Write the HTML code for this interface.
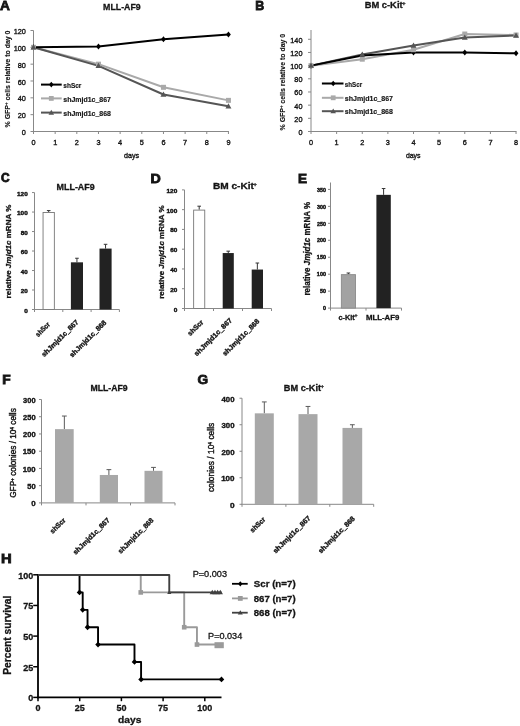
<!DOCTYPE html>
<html><head><meta charset="utf-8"><style>
html,body{margin:0;padding:0;background:#fff;overflow:hidden;}
svg{display:block;font-family:"Liberation Sans", sans-serif;will-change:transform;}
</style></head><body>
<svg width="520" height="726" viewBox="0 0 520 726">
<rect width="520" height="726" fill="#fff"/>
<text x="0.06" y="10.0" font-size="13.19" font-weight="bold" fill="#141414" textLength="9.9" lengthAdjust="spacingAndGlyphs" stroke="#141414" stroke-width="0.8">A</text>
<text x="255.17" y="9.7" font-size="13.19" font-weight="bold" fill="#141414" textLength="9.0" lengthAdjust="spacingAndGlyphs" stroke="#141414" stroke-width="0.8">B</text>
<text x="1.11" y="182.0" font-size="12.49" font-weight="bold" fill="#141414" textLength="8.61" lengthAdjust="spacingAndGlyphs" stroke="#141414" stroke-width="0.8">C</text>
<text x="150.45" y="183.4" font-size="12.29" font-weight="bold" fill="#141414" textLength="10.25" lengthAdjust="spacingAndGlyphs" stroke="#141414" stroke-width="0.8">D</text>
<text x="298.09" y="183.3" font-size="12.49" font-weight="bold" fill="#141414" textLength="9.04" lengthAdjust="spacingAndGlyphs" stroke="#141414" stroke-width="0.8">E</text>
<text x="2.17" y="384.1" font-size="12.09" font-weight="bold" fill="#141414" textLength="8.43" lengthAdjust="spacingAndGlyphs" stroke="#141414" stroke-width="0.8">F</text>
<text x="197.54" y="384.4" font-size="12.49" font-weight="bold" fill="#141414" textLength="10.6" lengthAdjust="spacingAndGlyphs" stroke="#141414" stroke-width="0.8">G</text>
<text x="0.91" y="563.4" font-size="12.89" font-weight="bold" fill="#141414" textLength="10.69" lengthAdjust="spacingAndGlyphs" stroke="#141414" stroke-width="0.8">H</text>
<line x1="33.5" y1="30.5" x2="33.5" y2="131.5" stroke="#888888" stroke-width="1"/>
<line x1="30.5" y1="131.5" x2="33.5" y2="131.5" stroke="#888888" stroke-width="1"/>
<text x="21.83" y="135.0" font-size="7.3" fill="#141414" stroke="#141414" stroke-width="0.35">0</text>
<line x1="30.5" y1="114.666" x2="33.5" y2="114.666" stroke="#888888" stroke-width="1"/>
<text x="17.77" y="118.17" font-size="7.3" fill="#141414" stroke="#141414" stroke-width="0.35">20</text>
<line x1="30.5" y1="97.832" x2="33.5" y2="97.832" stroke="#888888" stroke-width="1"/>
<text x="17.77" y="101.33" font-size="7.3" fill="#141414" stroke="#141414" stroke-width="0.35">40</text>
<line x1="30.5" y1="80.99799999999999" x2="33.5" y2="80.99799999999999" stroke="#888888" stroke-width="1"/>
<text x="17.77" y="84.5" font-size="7.3" fill="#141414" stroke="#141414" stroke-width="0.35">60</text>
<line x1="30.5" y1="64.164" x2="33.5" y2="64.164" stroke="#888888" stroke-width="1"/>
<text x="17.77" y="67.66" font-size="7.3" fill="#141414" stroke="#141414" stroke-width="0.35">80</text>
<line x1="30.5" y1="47.33" x2="33.5" y2="47.33" stroke="#888888" stroke-width="1"/>
<text x="13.71" y="50.83" font-size="7.3" fill="#141414" stroke="#141414" stroke-width="0.35">100</text>
<line x1="30.5" y1="30.495999999999995" x2="33.5" y2="30.495999999999995" stroke="#888888" stroke-width="1"/>
<text x="13.71" y="34.0" font-size="7.3" fill="#141414" stroke="#141414" stroke-width="0.35">120</text>
<line x1="33.0" y1="131.5" x2="228.94" y2="131.5" stroke="#888888" stroke-width="1"/>
<line x1="33.5" y1="131.5" x2="33.5" y2="134.0" stroke="#888888" stroke-width="1"/>
<text x="33.5" y="144.8" font-size="7.3" text-anchor="middle" fill="#141414" stroke="#141414" stroke-width="0.35">0</text>
<line x1="55.16" y1="131.5" x2="55.16" y2="134.0" stroke="#888888" stroke-width="1"/>
<text x="55.16" y="144.8" font-size="7.3" text-anchor="middle" fill="#141414" stroke="#141414" stroke-width="0.35">1</text>
<line x1="76.82" y1="131.5" x2="76.82" y2="134.0" stroke="#888888" stroke-width="1"/>
<text x="76.82" y="144.8" font-size="7.3" text-anchor="middle" fill="#141414" stroke="#141414" stroke-width="0.35">2</text>
<line x1="98.48" y1="131.5" x2="98.48" y2="134.0" stroke="#888888" stroke-width="1"/>
<text x="98.48" y="144.8" font-size="7.3" text-anchor="middle" fill="#141414" stroke="#141414" stroke-width="0.35">3</text>
<line x1="120.14" y1="131.5" x2="120.14" y2="134.0" stroke="#888888" stroke-width="1"/>
<text x="120.14" y="144.8" font-size="7.3" text-anchor="middle" fill="#141414" stroke="#141414" stroke-width="0.35">4</text>
<line x1="141.8" y1="131.5" x2="141.8" y2="134.0" stroke="#888888" stroke-width="1"/>
<text x="141.8" y="144.8" font-size="7.3" text-anchor="middle" fill="#141414" stroke="#141414" stroke-width="0.35">5</text>
<line x1="163.46" y1="131.5" x2="163.46" y2="134.0" stroke="#888888" stroke-width="1"/>
<text x="163.46" y="144.8" font-size="7.3" text-anchor="middle" fill="#141414" stroke="#141414" stroke-width="0.35">6</text>
<line x1="185.12" y1="131.5" x2="185.12" y2="134.0" stroke="#888888" stroke-width="1"/>
<text x="185.12" y="144.8" font-size="7.3" text-anchor="middle" fill="#141414" stroke="#141414" stroke-width="0.35">7</text>
<line x1="206.78" y1="131.5" x2="206.78" y2="134.0" stroke="#888888" stroke-width="1"/>
<text x="206.78" y="144.8" font-size="7.3" text-anchor="middle" fill="#141414" stroke="#141414" stroke-width="0.35">8</text>
<line x1="228.44" y1="131.5" x2="228.44" y2="134.0" stroke="#888888" stroke-width="1"/>
<text x="228.44" y="144.8" font-size="7.3" text-anchor="middle" fill="#141414" stroke="#141414" stroke-width="0.35">9</text>
<polyline points="33.50,47.33 98.48,64.16 163.46,87.31 228.44,100.36" fill="none" stroke="#a9a9a9" stroke-width="2.0" stroke-linejoin="round"/>
<polyline points="33.50,47.33 98.48,65.85 163.46,94.47 228.44,106.25" fill="none" stroke="#555555" stroke-width="2.0" stroke-linejoin="round"/>
<polyline points="33.50,47.33 98.48,46.49 163.46,39.33 228.44,34.54" fill="none" stroke="#000" stroke-width="2.0" stroke-linejoin="round"/>
<path d="M33.50,44.33L35.90,47.33L33.50,50.33L31.10,47.33Z" fill="#000"/>
<path d="M98.48,43.49L100.88,46.49L98.48,49.49L96.08,46.49Z" fill="#000"/>
<path d="M163.46,36.33L165.86,39.33L163.46,42.33L161.06,39.33Z" fill="#000"/>
<path d="M228.44,31.54L230.84,34.54L228.44,37.54L226.04,34.54Z" fill="#000"/>
<rect x="31.00" y="44.83" width="5.00" height="5.00" fill="#a9a9a9"/>
<rect x="95.98" y="61.66" width="5.00" height="5.00" fill="#a9a9a9"/>
<rect x="160.96" y="84.81" width="5.00" height="5.00" fill="#a9a9a9"/>
<rect x="225.94" y="97.86" width="5.00" height="5.00" fill="#a9a9a9"/>
<path d="M33.50,44.34L36.49,49.54L30.51,49.54Z" fill="#555555"/>
<path d="M98.48,62.86L101.47,68.06L95.49,68.06Z" fill="#555555"/>
<path d="M163.46,91.48L166.45,96.68L160.47,96.68Z" fill="#555555"/>
<path d="M228.44,103.26L231.43,108.46L225.45,108.46Z" fill="#555555"/>
<text x="103.11" y="9.6" font-size="9.9" font-weight="bold" fill="#141414" textLength="37.61" lengthAdjust="spacingAndGlyphs" stroke="#141414" stroke-width="0.3">MLL-AF9</text>
<text x="123.97" y="157.72" font-size="7.11" fill="#141414" textLength="15.11" lengthAdjust="spacingAndGlyphs" stroke="#141414" stroke-width="0.35">days</text>
<text transform="translate(10.4,127.47) rotate(-90)" font-size="8.0" font-weight="bold" fill="#141414" textLength="96.96" lengthAdjust="spacingAndGlyphs" stroke="#141414" stroke-width="0.15">% GFP<tspan dy="-2.6" font-size="5">+</tspan><tspan dy="2.6"> cells relative to day 0</tspan></text>
<line x1="41" y1="84.6" x2="61.7" y2="84.6" stroke="#000" stroke-width="2.0"/>
<path d="M51.30,81.80L53.60,84.60L51.30,87.40L49.00,84.60Z" fill="#000"/>
<line x1="41" y1="98.4" x2="61.7" y2="98.4" stroke="#a9a9a9" stroke-width="2.0"/>
<rect x="48.90" y="96.00" width="4.80" height="4.80" fill="#a9a9a9"/>
<line x1="41" y1="112.6" x2="61.7" y2="112.6" stroke="#555555" stroke-width="2.0"/>
<path d="M51.30,109.84L54.06,114.64L48.54,114.64Z" fill="#555555"/>
<text x="63.27" y="87.8" font-size="7.4" font-weight="bold" fill="#141414" textLength="18.13" lengthAdjust="spacingAndGlyphs" stroke="#141414" stroke-width="0.15">shScr</text>
<text x="63.26" y="102.0" font-size="7.4" font-weight="bold" fill="#141414" textLength="47.75" lengthAdjust="spacingAndGlyphs" stroke="#141414" stroke-width="0.15">shJmjd1c_867</text>
<text x="63.26" y="116.2" font-size="7.4" font-weight="bold" fill="#141414" textLength="47.66" lengthAdjust="spacingAndGlyphs" stroke="#141414" stroke-width="0.15">shJmjd1c_868</text>
<line x1="311.0" y1="30.0" x2="311.0" y2="131.5" stroke="#888888" stroke-width="1"/>
<line x1="308.0" y1="131.5" x2="311.0" y2="131.5" stroke="#888888" stroke-width="1"/>
<text x="298.43" y="135.0" font-size="7.3" fill="#141414" stroke="#141414" stroke-width="0.35">0</text>
<line x1="308.0" y1="118.328" x2="311.0" y2="118.328" stroke="#888888" stroke-width="1"/>
<text x="294.37" y="121.83" font-size="7.3" fill="#141414" stroke="#141414" stroke-width="0.35">20</text>
<line x1="308.0" y1="105.156" x2="311.0" y2="105.156" stroke="#888888" stroke-width="1"/>
<text x="294.37" y="108.66" font-size="7.3" fill="#141414" stroke="#141414" stroke-width="0.35">40</text>
<line x1="308.0" y1="91.98400000000001" x2="311.0" y2="91.98400000000001" stroke="#888888" stroke-width="1"/>
<text x="294.37" y="95.48" font-size="7.3" fill="#141414" stroke="#141414" stroke-width="0.35">60</text>
<line x1="308.0" y1="78.81200000000001" x2="311.0" y2="78.81200000000001" stroke="#888888" stroke-width="1"/>
<text x="294.37" y="82.31" font-size="7.3" fill="#141414" stroke="#141414" stroke-width="0.35">80</text>
<line x1="308.0" y1="65.64" x2="311.0" y2="65.64" stroke="#888888" stroke-width="1"/>
<text x="290.31" y="69.14" font-size="7.3" fill="#141414" stroke="#141414" stroke-width="0.35">100</text>
<line x1="308.0" y1="52.468" x2="311.0" y2="52.468" stroke="#888888" stroke-width="1"/>
<text x="290.31" y="55.97" font-size="7.3" fill="#141414" stroke="#141414" stroke-width="0.35">120</text>
<line x1="308.0" y1="39.29600000000001" x2="311.0" y2="39.29600000000001" stroke="#888888" stroke-width="1"/>
<text x="290.31" y="42.8" font-size="7.3" fill="#141414" stroke="#141414" stroke-width="0.35">140</text>
<line x1="310.5" y1="131.5" x2="516.54" y2="131.5" stroke="#888888" stroke-width="1"/>
<line x1="311.0" y1="131.5" x2="311.0" y2="134.0" stroke="#888888" stroke-width="1"/>
<text x="311.0" y="144.8" font-size="7.3" text-anchor="middle" fill="#141414" stroke="#141414" stroke-width="0.35">0</text>
<line x1="336.63" y1="131.5" x2="336.63" y2="134.0" stroke="#888888" stroke-width="1"/>
<text x="336.63" y="144.8" font-size="7.3" text-anchor="middle" fill="#141414" stroke="#141414" stroke-width="0.35">1</text>
<line x1="362.26" y1="131.5" x2="362.26" y2="134.0" stroke="#888888" stroke-width="1"/>
<text x="362.26" y="144.8" font-size="7.3" text-anchor="middle" fill="#141414" stroke="#141414" stroke-width="0.35">2</text>
<line x1="387.89" y1="131.5" x2="387.89" y2="134.0" stroke="#888888" stroke-width="1"/>
<text x="387.89" y="144.8" font-size="7.3" text-anchor="middle" fill="#141414" stroke="#141414" stroke-width="0.35">3</text>
<line x1="413.52" y1="131.5" x2="413.52" y2="134.0" stroke="#888888" stroke-width="1"/>
<text x="413.52" y="144.8" font-size="7.3" text-anchor="middle" fill="#141414" stroke="#141414" stroke-width="0.35">4</text>
<line x1="439.15" y1="131.5" x2="439.15" y2="134.0" stroke="#888888" stroke-width="1"/>
<text x="439.15" y="144.8" font-size="7.3" text-anchor="middle" fill="#141414" stroke="#141414" stroke-width="0.35">5</text>
<line x1="464.78" y1="131.5" x2="464.78" y2="134.0" stroke="#888888" stroke-width="1"/>
<text x="464.78" y="144.8" font-size="7.3" text-anchor="middle" fill="#141414" stroke="#141414" stroke-width="0.35">6</text>
<line x1="490.40999999999997" y1="131.5" x2="490.40999999999997" y2="134.0" stroke="#888888" stroke-width="1"/>
<text x="490.41" y="144.8" font-size="7.3" text-anchor="middle" fill="#141414" stroke="#141414" stroke-width="0.35">7</text>
<line x1="516.04" y1="131.5" x2="516.04" y2="134.0" stroke="#888888" stroke-width="1"/>
<text x="516.04" y="144.8" font-size="7.3" text-anchor="middle" fill="#141414" stroke="#141414" stroke-width="0.35">8</text>
<polyline points="311.00,65.64 362.26,59.19 413.52,49.70 464.78,34.03 516.04,35.02" fill="none" stroke="#a9a9a9" stroke-width="2.0" stroke-linejoin="round"/>
<polyline points="311.00,65.64 362.26,54.44 413.52,45.42 464.78,37.52 516.04,35.48" fill="none" stroke="#555555" stroke-width="2.0" stroke-linejoin="round"/>
<polyline points="311.00,65.64 362.26,55.43 413.52,52.47 464.78,52.40 516.04,53.32" fill="none" stroke="#000" stroke-width="2.0" stroke-linejoin="round"/>
<path d="M311.00,62.64L313.40,65.64L311.00,68.64L308.60,65.64Z" fill="#000"/>
<path d="M362.26,52.43L364.66,55.43L362.26,58.43L359.86,55.43Z" fill="#000"/>
<path d="M413.52,49.47L415.92,52.47L413.52,55.47L411.12,52.47Z" fill="#000"/>
<path d="M464.78,49.40L467.18,52.40L464.78,55.40L462.38,52.40Z" fill="#000"/>
<path d="M516.04,50.32L518.44,53.32L516.04,56.32L513.64,53.32Z" fill="#000"/>
<rect x="308.50" y="63.14" width="5.00" height="5.00" fill="#a9a9a9"/>
<rect x="359.76" y="56.69" width="5.00" height="5.00" fill="#a9a9a9"/>
<rect x="411.02" y="47.20" width="5.00" height="5.00" fill="#a9a9a9"/>
<rect x="462.28" y="31.53" width="5.00" height="5.00" fill="#a9a9a9"/>
<rect x="513.54" y="32.52" width="5.00" height="5.00" fill="#a9a9a9"/>
<path d="M311.00,62.65L313.99,67.85L308.01,67.85Z" fill="#555555"/>
<path d="M362.26,51.45L365.25,56.65L359.27,56.65Z" fill="#555555"/>
<path d="M413.52,42.43L416.51,47.63L410.53,47.63Z" fill="#555555"/>
<path d="M464.78,34.53L467.77,39.73L461.79,39.73Z" fill="#555555"/>
<path d="M516.04,32.49L519.03,37.69L513.05,37.69Z" fill="#555555"/>
<text x="364.67" y="7.7" font-size="9.0" font-weight="bold" fill="#141414" textLength="37.94" lengthAdjust="spacingAndGlyphs" stroke="#141414" stroke-width="0.3">BM c-Kit</text>
<text x="402.2" y="5.0" font-size="5.5" font-weight="bold" fill="#141414" stroke="#141414" stroke-width="0.3">+</text>
<text x="405.88" y="157.82" font-size="7.11" fill="#141414" textLength="14.69" lengthAdjust="spacingAndGlyphs" stroke="#141414" stroke-width="0.35">days</text>
<text transform="translate(285.4,130.47) rotate(-90)" font-size="8.0" font-weight="bold" fill="#141414" textLength="96.65" lengthAdjust="spacingAndGlyphs" stroke="#141414" stroke-width="0.15">% GFP<tspan dy="-2.6" font-size="5">+</tspan><tspan dy="2.6"> cells relative to day 0</tspan></text>
<line x1="321.9" y1="83.5" x2="343.5" y2="83.5" stroke="#000" stroke-width="2.0"/>
<path d="M333.20,80.70L335.50,83.50L333.20,86.30L330.90,83.50Z" fill="#000"/>
<line x1="321.9" y1="97.8" x2="343.5" y2="97.8" stroke="#a9a9a9" stroke-width="2.0"/>
<rect x="330.80" y="95.40" width="4.80" height="4.80" fill="#a9a9a9"/>
<line x1="321.9" y1="111.2" x2="343.5" y2="111.2" stroke="#555555" stroke-width="2.0"/>
<path d="M333.20,108.44L335.96,113.24L330.44,113.24Z" fill="#555555"/>
<text x="344.78" y="86.6" font-size="7.4" font-weight="bold" fill="#141414" textLength="17.31" lengthAdjust="spacingAndGlyphs" stroke="#141414" stroke-width="0.15">shScr</text>
<text x="344.75" y="101.0" font-size="7.4" font-weight="bold" fill="#141414" textLength="48.26" lengthAdjust="spacingAndGlyphs" stroke="#141414" stroke-width="0.15">shJmjd1c_867</text>
<text x="344.75" y="114.4" font-size="7.4" font-weight="bold" fill="#141414" textLength="48.16" lengthAdjust="spacingAndGlyphs" stroke="#141414" stroke-width="0.15">shJmjd1c_868</text>
<line x1="34.5" y1="192.6" x2="34.5" y2="309.5" stroke="#888888" stroke-width="1"/>
<line x1="32.0" y1="309.5" x2="34.5" y2="309.5" stroke="#888888" stroke-width="1"/>
<text x="24.19" y="312.5" font-size="5.94" font-weight="bold" fill="#141414" textLength="3.63" lengthAdjust="spacingAndGlyphs" stroke="#141414" stroke-width="0.4">0</text>
<line x1="32.0" y1="290.01" x2="34.5" y2="290.01" stroke="#888888" stroke-width="1"/>
<text x="20.73" y="293.01" font-size="5.94" font-weight="bold" fill="#141414" textLength="7.09" lengthAdjust="spacingAndGlyphs" stroke="#141414" stroke-width="0.4">20</text>
<line x1="32.0" y1="270.52" x2="34.5" y2="270.52" stroke="#888888" stroke-width="1"/>
<text x="20.86" y="273.52" font-size="5.94" font-weight="bold" fill="#141414" textLength="6.95" lengthAdjust="spacingAndGlyphs" stroke="#141414" stroke-width="0.4">40</text>
<line x1="32.0" y1="251.03" x2="34.5" y2="251.03" stroke="#888888" stroke-width="1"/>
<text x="20.71" y="254.03" font-size="5.94" font-weight="bold" fill="#141414" textLength="7.1" lengthAdjust="spacingAndGlyphs" stroke="#141414" stroke-width="0.4">60</text>
<line x1="32.0" y1="231.54" x2="34.5" y2="231.54" stroke="#888888" stroke-width="1"/>
<text x="20.75" y="234.54" font-size="5.94" font-weight="bold" fill="#141414" textLength="7.07" lengthAdjust="spacingAndGlyphs" stroke="#141414" stroke-width="0.4">80</text>
<line x1="32.0" y1="212.05" x2="34.5" y2="212.05" stroke="#888888" stroke-width="1"/>
<text x="17.04" y="215.05" font-size="5.94" font-weight="bold" fill="#141414" textLength="10.77" lengthAdjust="spacingAndGlyphs" stroke="#141414" stroke-width="0.4">100</text>
<line x1="32.0" y1="192.56" x2="34.5" y2="192.56" stroke="#888888" stroke-width="1"/>
<text x="17.04" y="195.56" font-size="5.94" font-weight="bold" fill="#141414" textLength="10.77" lengthAdjust="spacingAndGlyphs" stroke="#141414" stroke-width="0.4">120</text>
<line x1="34.0" y1="309.5" x2="119.4" y2="309.5" stroke="#888888" stroke-width="1"/>
<line x1="34.5" y1="309.5" x2="34.5" y2="312.0" stroke="#888888" stroke-width="1"/>
<line x1="62.8" y1="309.5" x2="62.8" y2="312.0" stroke="#888888" stroke-width="1"/>
<line x1="91.1" y1="309.5" x2="91.1" y2="312.0" stroke="#888888" stroke-width="1"/>
<line x1="119.4" y1="309.5" x2="119.4" y2="312.0" stroke="#888888" stroke-width="1"/>
<line x1="48.7" y1="210.58825000000002" x2="48.7" y2="212.05" stroke="#333" stroke-width="1.0"/>
<line x1="46.900000000000006" y1="210.58825000000002" x2="50.5" y2="210.58825000000002" stroke="#333" stroke-width="1.0"/>
<rect x="43.05" y="212.50" width="11.30" height="97.00" fill="#fff" stroke="#777" stroke-width="0.9"/>
<line x1="76.95" y1="258.2413" x2="76.95" y2="262.3342" stroke="#333" stroke-width="1.0"/>
<line x1="75.15" y1="258.2413" x2="78.75" y2="258.2413" stroke="#333" stroke-width="1.0"/>
<rect x="70.90" y="262.33" width="12.10" height="47.17" fill="#222222"/>
<line x1="105.55" y1="244.30595" x2="105.55" y2="248.59375" stroke="#333" stroke-width="1.0"/>
<line x1="103.75" y1="244.30595" x2="107.35" y2="244.30595" stroke="#333" stroke-width="1.0"/>
<rect x="99.50" y="248.59" width="12.10" height="60.91" fill="#222222"/>
<text x="56.6" y="189.9" font-size="9.4" font-weight="bold" fill="#141414" textLength="38.13" lengthAdjust="spacingAndGlyphs" stroke="#141414" stroke-width="0.3">MLL-AF9</text>
<text transform="translate(10.9,298.43) rotate(-90)" font-size="7.5" font-weight="bold" fill="#141414" textLength="93.74" lengthAdjust="spacingAndGlyphs" stroke="#141414" stroke-width="0.3">relative <tspan font-style="italic">Jmjd1c</tspan> mRNA %</text>
<line x1="184.5" y1="189.9" x2="184.5" y2="308.5" stroke="#888888" stroke-width="1"/>
<line x1="182.0" y1="308.5" x2="184.5" y2="308.5" stroke="#888888" stroke-width="1"/>
<text x="173.69" y="311.55" font-size="5.94" font-weight="bold" fill="#141414" textLength="3.63" lengthAdjust="spacingAndGlyphs" stroke="#141414" stroke-width="0.4">0</text>
<line x1="182.0" y1="288.73" x2="184.5" y2="288.73" stroke="#888888" stroke-width="1"/>
<text x="170.23" y="291.78" font-size="5.94" font-weight="bold" fill="#141414" textLength="7.09" lengthAdjust="spacingAndGlyphs" stroke="#141414" stroke-width="0.4">20</text>
<line x1="182.0" y1="268.96" x2="184.5" y2="268.96" stroke="#888888" stroke-width="1"/>
<text x="170.36" y="272.01" font-size="5.94" font-weight="bold" fill="#141414" textLength="6.95" lengthAdjust="spacingAndGlyphs" stroke="#141414" stroke-width="0.4">40</text>
<line x1="182.0" y1="249.19" x2="184.5" y2="249.19" stroke="#888888" stroke-width="1"/>
<text x="170.21" y="252.24" font-size="5.94" font-weight="bold" fill="#141414" textLength="7.1" lengthAdjust="spacingAndGlyphs" stroke="#141414" stroke-width="0.4">60</text>
<line x1="182.0" y1="229.42000000000002" x2="184.5" y2="229.42000000000002" stroke="#888888" stroke-width="1"/>
<text x="170.25" y="232.47" font-size="5.94" font-weight="bold" fill="#141414" textLength="7.07" lengthAdjust="spacingAndGlyphs" stroke="#141414" stroke-width="0.4">80</text>
<line x1="182.0" y1="209.64999999999998" x2="184.5" y2="209.64999999999998" stroke="#888888" stroke-width="1"/>
<text x="166.54" y="212.7" font-size="5.94" font-weight="bold" fill="#141414" textLength="10.77" lengthAdjust="spacingAndGlyphs" stroke="#141414" stroke-width="0.4">100</text>
<line x1="182.0" y1="189.88" x2="184.5" y2="189.88" stroke="#888888" stroke-width="1"/>
<text x="166.54" y="192.93" font-size="5.94" font-weight="bold" fill="#141414" textLength="10.77" lengthAdjust="spacingAndGlyphs" stroke="#141414" stroke-width="0.4">120</text>
<line x1="184.0" y1="308.5" x2="271.5" y2="308.5" stroke="#888888" stroke-width="1"/>
<line x1="184.5" y1="308.5" x2="184.5" y2="311.0" stroke="#888888" stroke-width="1"/>
<line x1="213.5" y1="308.5" x2="213.5" y2="311.0" stroke="#888888" stroke-width="1"/>
<line x1="242.5" y1="308.5" x2="242.5" y2="311.0" stroke="#888888" stroke-width="1"/>
<line x1="271.5" y1="308.5" x2="271.5" y2="311.0" stroke="#888888" stroke-width="1"/>
<line x1="199.2" y1="206.19025" x2="199.2" y2="209.64999999999998" stroke="#333" stroke-width="1.0"/>
<line x1="197.39999999999998" y1="206.19025" x2="201.0" y2="206.19025" stroke="#333" stroke-width="1.0"/>
<rect x="193.65" y="210.10" width="11.10" height="98.40" fill="#fff" stroke="#777" stroke-width="0.9"/>
<line x1="228.25" y1="251.167" x2="228.25" y2="253.04515" stroke="#333" stroke-width="1.0"/>
<line x1="226.45" y1="251.167" x2="230.05" y2="251.167" stroke="#333" stroke-width="1.0"/>
<rect x="222.70" y="253.05" width="11.10" height="55.45" fill="#222222"/>
<line x1="257.35" y1="263.029" x2="257.35" y2="269.5531" stroke="#333" stroke-width="1.0"/>
<line x1="255.55" y1="263.029" x2="259.15000000000003" y2="263.029" stroke="#333" stroke-width="1.0"/>
<rect x="251.70" y="269.55" width="11.30" height="38.95" fill="#222222"/>
<text x="212.92" y="189.2" font-size="9.0" font-weight="bold" fill="#141414" textLength="41.0" lengthAdjust="spacingAndGlyphs" stroke="#141414" stroke-width="0.3">BM c-Kit</text>
<text x="253.5" y="186.4" font-size="5.5" font-weight="bold" fill="#141414" stroke="#141414" stroke-width="0.3">+</text>
<text transform="translate(164.4,298.83) rotate(-90)" font-size="7.7" font-weight="bold" fill="#141414" textLength="93.33" lengthAdjust="spacingAndGlyphs" stroke="#141414" stroke-width="0.3">relative <tspan font-style="italic">Jmjd1c</tspan> mRNA %</text>
<line x1="330.5" y1="182.5" x2="330.5" y2="308.1" stroke="#888888" stroke-width="1"/>
<line x1="328.0" y1="308.1" x2="330.5" y2="308.1" stroke="#888888" stroke-width="1"/>
<text x="322.98" y="310.3" font-size="5.34" font-weight="bold" fill="#141414" textLength="3.04" lengthAdjust="spacingAndGlyphs" stroke="#141414" stroke-width="0.4">0</text>
<line x1="328.0" y1="291.14500000000004" x2="330.5" y2="291.14500000000004" stroke="#888888" stroke-width="1"/>
<text x="320.03" y="293.35" font-size="5.34" font-weight="bold" fill="#141414" textLength="5.99" lengthAdjust="spacingAndGlyphs" stroke="#141414" stroke-width="0.4">50</text>
<line x1="328.0" y1="274.19" x2="330.5" y2="274.19" stroke="#888888" stroke-width="1"/>
<text x="316.85" y="276.39" font-size="5.34" font-weight="bold" fill="#141414" textLength="9.17" lengthAdjust="spacingAndGlyphs" stroke="#141414" stroke-width="0.4">100</text>
<line x1="328.0" y1="257.235" x2="330.5" y2="257.235" stroke="#888888" stroke-width="1"/>
<text x="316.85" y="259.43" font-size="5.34" font-weight="bold" fill="#141414" textLength="9.17" lengthAdjust="spacingAndGlyphs" stroke="#141414" stroke-width="0.4">150</text>
<line x1="328.0" y1="240.28000000000003" x2="330.5" y2="240.28000000000003" stroke="#888888" stroke-width="1"/>
<text x="317.01" y="242.48" font-size="5.34" font-weight="bold" fill="#141414" textLength="9.01" lengthAdjust="spacingAndGlyphs" stroke="#141414" stroke-width="0.4">200</text>
<line x1="328.0" y1="223.32500000000002" x2="330.5" y2="223.32500000000002" stroke="#888888" stroke-width="1"/>
<text x="317.01" y="225.53" font-size="5.34" font-weight="bold" fill="#141414" textLength="9.01" lengthAdjust="spacingAndGlyphs" stroke="#141414" stroke-width="0.4">250</text>
<line x1="328.0" y1="206.37" x2="330.5" y2="206.37" stroke="#888888" stroke-width="1"/>
<text x="317.08" y="208.57" font-size="5.34" font-weight="bold" fill="#141414" textLength="8.95" lengthAdjust="spacingAndGlyphs" stroke="#141414" stroke-width="0.4">300</text>
<line x1="328.0" y1="189.41500000000002" x2="330.5" y2="189.41500000000002" stroke="#888888" stroke-width="1"/>
<text x="317.08" y="191.62" font-size="5.34" font-weight="bold" fill="#141414" textLength="8.95" lengthAdjust="spacingAndGlyphs" stroke="#141414" stroke-width="0.4">350</text>
<line x1="330.0" y1="308.1" x2="401.5" y2="308.1" stroke="#888888" stroke-width="1"/>
<line x1="330.5" y1="308.1" x2="330.5" y2="310.6" stroke="#888888" stroke-width="1"/>
<line x1="366.0" y1="308.1" x2="366.0" y2="310.6" stroke="#888888" stroke-width="1"/>
<line x1="401.5" y1="308.1" x2="401.5" y2="310.6" stroke="#888888" stroke-width="1"/>
<line x1="348.4" y1="273.00315" x2="348.4" y2="274.19" stroke="#333" stroke-width="1.0"/>
<line x1="346.59999999999997" y1="273.00315" x2="350.2" y2="273.00315" stroke="#333" stroke-width="1.0"/>
<rect x="341.35" y="274.64" width="14.10" height="33.46" fill="#a2a2a2" stroke="#8a8a8a" stroke-width="0.9"/>
<line x1="383.6" y1="188.53334" x2="383.6" y2="194.84060000000002" stroke="#333" stroke-width="1.0"/>
<line x1="381.8" y1="188.53334" x2="385.40000000000003" y2="188.53334" stroke="#333" stroke-width="1.0"/>
<rect x="376.40" y="194.84" width="14.40" height="113.26" fill="#222222"/>
<text transform="translate(310.2,295.53) rotate(-90)" font-size="8.2" font-weight="bold" fill="#141414" textLength="93.54" lengthAdjust="spacingAndGlyphs" stroke="#141414" stroke-width="0.3">relative <tspan font-style="italic">Jmjd1c</tspan> mRNA %</text>
<text x="338.52" y="319.9" font-size="7.6" font-weight="bold" fill="#141414" textLength="16.17" lengthAdjust="spacingAndGlyphs" stroke="#141414" stroke-width="0.3">c-Kit</text>
<text x="354.4" y="317.0" font-size="5.0" font-weight="bold" fill="#141414" stroke="#141414" stroke-width="0.3">+</text>
<text x="365.98" y="319.9" font-size="7.9" font-weight="bold" fill="#141414" textLength="33.31" lengthAdjust="spacingAndGlyphs" stroke="#141414" stroke-width="0.3">MLL-AF9</text>
<line x1="41.5" y1="399.5" x2="41.5" y2="502.9" stroke="#888888" stroke-width="1"/>
<line x1="39.0" y1="502.9" x2="41.5" y2="502.9" stroke="#888888" stroke-width="1"/>
<text x="31.23" y="506.12" font-size="7.11" font-weight="bold" fill="#141414" textLength="4.43" lengthAdjust="spacingAndGlyphs" stroke="#141414" stroke-width="0.35">0</text>
<line x1="39.0" y1="485.66499999999996" x2="41.5" y2="485.66499999999996" stroke="#888888" stroke-width="1"/>
<text x="27.18" y="488.88" font-size="7.11" font-weight="bold" fill="#141414" textLength="8.46" lengthAdjust="spacingAndGlyphs" stroke="#141414" stroke-width="0.35">50</text>
<line x1="39.0" y1="468.42999999999995" x2="41.5" y2="468.42999999999995" stroke="#888888" stroke-width="1"/>
<text x="22.8" y="471.65" font-size="7.11" font-weight="bold" fill="#141414" textLength="12.84" lengthAdjust="spacingAndGlyphs" stroke="#141414" stroke-width="0.35">100</text>
<line x1="39.0" y1="451.195" x2="41.5" y2="451.195" stroke="#888888" stroke-width="1"/>
<text x="22.8" y="454.41" font-size="7.11" font-weight="bold" fill="#141414" textLength="12.84" lengthAdjust="spacingAndGlyphs" stroke="#141414" stroke-width="0.35">150</text>
<line x1="39.0" y1="433.96" x2="41.5" y2="433.96" stroke="#888888" stroke-width="1"/>
<text x="23.02" y="437.19" font-size="7.11" font-weight="bold" fill="#141414" textLength="12.62" lengthAdjust="spacingAndGlyphs" stroke="#141414" stroke-width="0.35">200</text>
<line x1="39.0" y1="416.72499999999997" x2="41.5" y2="416.72499999999997" stroke="#888888" stroke-width="1"/>
<text x="23.02" y="419.94" font-size="7.11" font-weight="bold" fill="#141414" textLength="12.62" lengthAdjust="spacingAndGlyphs" stroke="#141414" stroke-width="0.35">250</text>
<line x1="39.0" y1="399.49" x2="41.5" y2="399.49" stroke="#888888" stroke-width="1"/>
<text x="23.11" y="402.71" font-size="7.11" font-weight="bold" fill="#141414" textLength="12.52" lengthAdjust="spacingAndGlyphs" stroke="#141414" stroke-width="0.35">300</text>
<line x1="41.0" y1="502.9" x2="175.0" y2="502.9" stroke="#888888" stroke-width="1"/>
<line x1="41.5" y1="502.9" x2="41.5" y2="505.4" stroke="#888888" stroke-width="1"/>
<line x1="86.0" y1="502.9" x2="86.0" y2="505.4" stroke="#888888" stroke-width="1"/>
<line x1="130.5" y1="502.9" x2="130.5" y2="505.4" stroke="#888888" stroke-width="1"/>
<line x1="175.0" y1="502.9" x2="175.0" y2="505.4" stroke="#888888" stroke-width="1"/>
<line x1="64.35" y1="416.0356" x2="64.35" y2="429.13419999999996" stroke="#5a5a5a" stroke-width="1.0"/>
<line x1="61.949999999999996" y1="416.0356" x2="66.75" y2="416.0356" stroke="#5a5a5a" stroke-width="1.0"/>
<rect x="55.00" y="429.13" width="18.70" height="73.77" fill="#a8a8a8"/>
<line x1="108.9" y1="469.63644999999997" x2="108.9" y2="474.97929999999997" stroke="#5a5a5a" stroke-width="1.0"/>
<line x1="106.5" y1="469.63644999999997" x2="111.30000000000001" y2="469.63644999999997" stroke="#5a5a5a" stroke-width="1.0"/>
<rect x="99.80" y="474.98" width="18.20" height="27.92" fill="#a8a8a8"/>
<line x1="153.5" y1="467.3959" x2="153.5" y2="470.8429" stroke="#5a5a5a" stroke-width="1.0"/>
<line x1="151.1" y1="467.3959" x2="155.9" y2="467.3959" stroke="#5a5a5a" stroke-width="1.0"/>
<rect x="144.50" y="470.84" width="18.00" height="32.06" fill="#a8a8a8"/>
<text x="90.42" y="391.3" font-size="8.9" font-weight="bold" fill="#141414" textLength="37.2" lengthAdjust="spacingAndGlyphs" stroke="#141414" stroke-width="0.3">MLL-AF9</text>
<text transform="translate(16.4,497.79) rotate(-90)" font-size="8.6" fill="#141414" textLength="89.58" lengthAdjust="spacingAndGlyphs" stroke="#141414" stroke-width="0.4">GFP<tspan dy="-2.6" font-size="5">+</tspan><tspan dy="2.6"> colonies / 10</tspan><tspan dy="-2.6" font-size="5">4</tspan><tspan dy="2.6"> cells</tspan></text>
<line x1="242.0" y1="398.2" x2="242.0" y2="504.3" stroke="#888888" stroke-width="1"/>
<line x1="239.5" y1="504.3" x2="242.0" y2="504.3" stroke="#888888" stroke-width="1"/>
<text x="229.94" y="507.72" font-size="7.11" font-weight="bold" fill="#141414" textLength="4.62" lengthAdjust="spacingAndGlyphs" stroke="#141414" stroke-width="0.35">0</text>
<line x1="239.5" y1="477.78000000000003" x2="242.0" y2="477.78000000000003" stroke="#888888" stroke-width="1"/>
<text x="221.17" y="481.2" font-size="7.11" font-weight="bold" fill="#141414" textLength="13.39" lengthAdjust="spacingAndGlyphs" stroke="#141414" stroke-width="0.35">100</text>
<line x1="239.5" y1="451.26" x2="242.0" y2="451.26" stroke="#888888" stroke-width="1"/>
<text x="221.4" y="454.69" font-size="7.11" font-weight="bold" fill="#141414" textLength="13.15" lengthAdjust="spacingAndGlyphs" stroke="#141414" stroke-width="0.35">200</text>
<line x1="239.5" y1="424.74" x2="242.0" y2="424.74" stroke="#888888" stroke-width="1"/>
<text x="221.5" y="428.16" font-size="7.11" font-weight="bold" fill="#141414" textLength="13.05" lengthAdjust="spacingAndGlyphs" stroke="#141414" stroke-width="0.35">300</text>
<line x1="239.5" y1="398.22" x2="242.0" y2="398.22" stroke="#888888" stroke-width="1"/>
<text x="221.56" y="401.64" font-size="7.11" font-weight="bold" fill="#141414" textLength="12.99" lengthAdjust="spacingAndGlyphs" stroke="#141414" stroke-width="0.35">400</text>
<line x1="241.5" y1="504.3" x2="373.7" y2="504.3" stroke="#888888" stroke-width="1"/>
<line x1="242.0" y1="504.3" x2="242.0" y2="506.8" stroke="#888888" stroke-width="1"/>
<line x1="285.9" y1="504.3" x2="285.9" y2="506.8" stroke="#888888" stroke-width="1"/>
<line x1="329.8" y1="504.3" x2="329.8" y2="506.8" stroke="#888888" stroke-width="1"/>
<line x1="373.7" y1="504.3" x2="373.7" y2="506.8" stroke="#888888" stroke-width="1"/>
<line x1="264.3" y1="401.93280000000004" x2="264.3" y2="413.3364" stroke="#5a5a5a" stroke-width="1.0"/>
<line x1="261.90000000000003" y1="401.93280000000004" x2="266.7" y2="401.93280000000004" stroke="#5a5a5a" stroke-width="1.0"/>
<rect x="254.80" y="413.34" width="19.00" height="90.96" fill="#a8a8a8"/>
<line x1="308.0" y1="406.4412" x2="308.0" y2="414.132" stroke="#5a5a5a" stroke-width="1.0"/>
<line x1="305.6" y1="406.4412" x2="310.4" y2="406.4412" stroke="#5a5a5a" stroke-width="1.0"/>
<rect x="298.50" y="414.13" width="19.00" height="90.17" fill="#a8a8a8"/>
<line x1="352.35" y1="424.74" x2="352.35" y2="427.92240000000004" stroke="#5a5a5a" stroke-width="1.0"/>
<line x1="349.95000000000005" y1="424.74" x2="354.75" y2="424.74" stroke="#5a5a5a" stroke-width="1.0"/>
<rect x="342.50" y="427.92" width="19.70" height="76.38" fill="#a8a8a8"/>
<text x="283.78" y="391.1" font-size="8.6" font-weight="bold" fill="#141414" textLength="37.33" lengthAdjust="spacingAndGlyphs" stroke="#141414" stroke-width="0.3">BM c-Kit</text>
<text x="320.8" y="388.4" font-size="5.2" font-weight="bold" fill="#141414" stroke="#141414" stroke-width="0.3">+</text>
<text transform="translate(214.2,492.04) rotate(-90)" font-size="8.7" fill="#141414" textLength="69.34" lengthAdjust="spacingAndGlyphs" stroke="#141414" stroke-width="0.4">colonies / 10<tspan dy="-2.6" font-size="5">4</tspan><tspan dy="2.6"> cells</tspan></text>
<text transform="translate(50.4,325.0) rotate(-45)" font-size="7.0" font-weight="bold" text-anchor="end" fill="#141414" textLength="17.24" lengthAdjust="spacingAndGlyphs" stroke="#141414" stroke-width="0.35">shScr</text>
<text transform="translate(79.0,322.6) rotate(-45)" font-size="7.0" font-weight="bold" text-anchor="end" fill="#141414" textLength="49.17" lengthAdjust="spacingAndGlyphs" stroke="#141414" stroke-width="0.35">shJmjd1c_867</text>
<text transform="translate(106.8,323.2) rotate(-45)" font-size="7.0" font-weight="bold" text-anchor="end" fill="#141414" textLength="48.82" lengthAdjust="spacingAndGlyphs" stroke="#141414" stroke-width="0.35">shJmjd1c_868</text>
<text transform="translate(203.8,322.8) rotate(-45)" font-size="7.0" font-weight="bold" text-anchor="end" fill="#141414" textLength="19.01" lengthAdjust="spacingAndGlyphs" stroke="#141414" stroke-width="0.35">shScr</text>
<text transform="translate(232.6,320.8) rotate(-45)" font-size="7.0" font-weight="bold" text-anchor="end" fill="#141414" textLength="50.59" lengthAdjust="spacingAndGlyphs" stroke="#141414" stroke-width="0.35">shJmjd1c_867</text>
<text transform="translate(259.8,321.8) rotate(-45)" font-size="7.0" font-weight="bold" text-anchor="end" fill="#141414" textLength="48.82" lengthAdjust="spacingAndGlyphs" stroke="#141414" stroke-width="0.35">shJmjd1c_868</text>
<text transform="translate(66.0,520.8) rotate(-45)" font-size="7.0" font-weight="bold" text-anchor="end" fill="#141414" textLength="18.66" lengthAdjust="spacingAndGlyphs" stroke="#141414" stroke-width="0.35">shScr</text>
<text transform="translate(110.2,520.6) rotate(-45)" font-size="7.0" font-weight="bold" text-anchor="end" fill="#141414" textLength="48.82" lengthAdjust="spacingAndGlyphs" stroke="#141414" stroke-width="0.35">shJmjd1c_867</text>
<text transform="translate(154.0,520.8) rotate(-45)" font-size="7.0" font-weight="bold" text-anchor="end" fill="#141414" textLength="47.05" lengthAdjust="spacingAndGlyphs" stroke="#141414" stroke-width="0.35">shJmjd1c_868</text>
<text transform="translate(265.8,520.0) rotate(-45)" font-size="7.0" font-weight="bold" text-anchor="end" fill="#141414" textLength="18.3" lengthAdjust="spacingAndGlyphs" stroke="#141414" stroke-width="0.35">shScr</text>
<text transform="translate(311.0,518.6) rotate(-45)" font-size="7.0" font-weight="bold" text-anchor="end" fill="#141414" textLength="49.88" lengthAdjust="spacingAndGlyphs" stroke="#141414" stroke-width="0.35">shJmjd1c_867</text>
<text transform="translate(355.4,519.2) rotate(-45)" font-size="7.0" font-weight="bold" text-anchor="end" fill="#141414" textLength="48.82" lengthAdjust="spacingAndGlyphs" stroke="#141414" stroke-width="0.35">shJmjd1c_868</text>
<line x1="38.0" y1="574.0" x2="38.0" y2="698.3" stroke="#000" stroke-width="1.8"/>
<line x1="37.1" y1="697.4" x2="221.5" y2="697.4" stroke="#000" stroke-width="1.8"/>
<line x1="33.2" y1="697.4" x2="38.0" y2="697.4" stroke="#000" stroke-width="1.5"/>
<text x="28.36" y="701.3" font-size="9.0" font-weight="bold" fill="#141414" stroke="#141414" stroke-width="0.3">0</text>
<line x1="33.2" y1="666.75" x2="38.0" y2="666.75" stroke="#000" stroke-width="1.5"/>
<text x="23.24" y="670.65" font-size="9.0" font-weight="bold" fill="#141414" stroke="#141414" stroke-width="0.3">25</text>
<line x1="33.2" y1="636.1" x2="38.0" y2="636.1" stroke="#000" stroke-width="1.5"/>
<text x="23.36" y="640.0" font-size="9.0" font-weight="bold" fill="#141414" stroke="#141414" stroke-width="0.3">50</text>
<line x1="33.2" y1="605.4499999999999" x2="38.0" y2="605.4499999999999" stroke="#000" stroke-width="1.5"/>
<text x="23.24" y="609.35" font-size="9.0" font-weight="bold" fill="#141414" stroke="#141414" stroke-width="0.3">75</text>
<line x1="33.2" y1="574.8" x2="38.0" y2="574.8" stroke="#000" stroke-width="1.5"/>
<text x="18.36" y="578.7" font-size="9.0" font-weight="bold" fill="#141414" stroke="#141414" stroke-width="0.3">100</text>
<line x1="38.0" y1="697.4" x2="38.0" y2="701.1999999999999" stroke="#000" stroke-width="1.5"/>
<text x="38.0" y="710.8" font-size="9.0" font-weight="bold" text-anchor="middle" fill="#141414" stroke="#141414" stroke-width="0.3">0</text>
<line x1="79.69999999999999" y1="697.4" x2="79.69999999999999" y2="701.1999999999999" stroke="#000" stroke-width="1.5"/>
<text x="79.7" y="710.8" font-size="9.0" font-weight="bold" text-anchor="middle" fill="#141414" stroke="#141414" stroke-width="0.3">25</text>
<line x1="121.39999999999999" y1="697.4" x2="121.39999999999999" y2="701.1999999999999" stroke="#000" stroke-width="1.5"/>
<text x="121.4" y="710.8" font-size="9.0" font-weight="bold" text-anchor="middle" fill="#141414" stroke="#141414" stroke-width="0.3">50</text>
<line x1="163.1" y1="697.4" x2="163.1" y2="701.1999999999999" stroke="#000" stroke-width="1.5"/>
<text x="163.1" y="710.8" font-size="9.0" font-weight="bold" text-anchor="middle" fill="#141414" stroke="#141414" stroke-width="0.3">75</text>
<line x1="204.79999999999998" y1="697.4" x2="204.79999999999998" y2="701.1999999999999" stroke="#000" stroke-width="1.5"/>
<text x="204.8" y="710.8" font-size="9.0" font-weight="bold" text-anchor="middle" fill="#141414" stroke="#141414" stroke-width="0.3">100</text>
<text x="118.08" y="723.3" font-size="9.6" font-weight="bold" fill="#141414" textLength="23.34" lengthAdjust="spacingAndGlyphs" stroke="#141414" stroke-width="0.3">days</text>
<text transform="translate(11.4,674.79) rotate(-90)" font-size="10.0" font-weight="bold" fill="#141414" textLength="79.11" lengthAdjust="spacingAndGlyphs" stroke="#141414" stroke-width="0.3">Percent survival</text>
<polyline points="38.00,575.00 140.75,575.00 140.75,592.42 184.20,592.42 184.20,627.25 196.96,627.25 196.96,644.55 221.48,644.55" fill="none" stroke="#9a9a9a" stroke-width="1.9" stroke-linejoin="round"/>
<polyline points="38.00,575.00 79.53,575.00 79.53,592.42 82.70,592.42 82.70,609.83 87.54,609.83 87.54,627.25 98.05,627.25 98.05,644.55 134.49,644.55 134.49,661.97 141.08,661.97 141.08,679.38 221.48,679.38" fill="none" stroke="#000" stroke-width="1.9" stroke-linejoin="round"/>
<polyline points="38.00,575.00 169.27,575.00 169.27,592.42 221.48,592.42" fill="none" stroke="#404040" stroke-width="1.9" stroke-linejoin="round"/>
<rect x="138.45" y="590.12" width="4.60" height="4.60" fill="#9a9a9a"/>
<rect x="181.90" y="624.95" width="4.60" height="4.60" fill="#9a9a9a"/>
<rect x="194.66" y="642.25" width="4.60" height="4.60" fill="#9a9a9a"/>
<rect x="214.5" y="642.2" width="9.3" height="6.0" fill="#9a9a9a"/>
<path d="M169.27,590.35L171.34,593.95L167.20,593.95Z" fill="#404040"/>
<path d="M212.31,589.77L214.95,594.37L209.66,594.37Z" fill="#404040"/>
<path d="M214.97,589.77L217.62,594.37L212.33,594.37Z" fill="#404040"/>
<path d="M217.64,589.77L220.29,594.37L215.00,594.37Z" fill="#404040"/>
<path d="M220.31,589.77L222.96,594.37L217.67,594.37Z" fill="#404040"/>
<path d="M79.53,589.52L82.33,592.42L79.53,595.32L76.73,592.42Z" fill="#000"/>
<path d="M82.70,606.93L85.50,609.83L82.70,612.73L79.90,609.83Z" fill="#000"/>
<path d="M87.54,624.35L90.34,627.25L87.54,630.15L84.74,627.25Z" fill="#000"/>
<path d="M98.05,641.65L100.85,644.55L98.05,647.45L95.25,644.55Z" fill="#000"/>
<path d="M134.49,659.07L137.29,661.97L134.49,664.87L131.69,661.97Z" fill="#000"/>
<path d="M141.08,676.48L143.88,679.38L141.08,682.28L138.28,679.38Z" fill="#000"/>
<path d="M221.48,676.48L224.28,679.38L221.48,682.28L218.68,679.38Z" fill="#000"/>
<text x="192.65" y="576.5" font-size="8.8" fill="#141414" textLength="34.36" lengthAdjust="spacingAndGlyphs" stroke="#141414" stroke-width="0.3">P=0.003</text>
<text x="208.05" y="638.8" font-size="8.8" fill="#141414" textLength="34.22" lengthAdjust="spacingAndGlyphs" stroke="#141414" stroke-width="0.3">P=0.034</text>
<line x1="232" y1="583.8" x2="247.7" y2="583.8" stroke="#000" stroke-width="1.8"/>
<path d="M240.30,581.20L242.50,583.80L240.30,586.40L238.10,583.80Z" fill="#000"/>
<line x1="232" y1="598.4" x2="247.7" y2="598.4" stroke="#9a9a9a" stroke-width="1.8"/>
<rect x="237.90" y="596.00" width="4.80" height="4.80" fill="#9a9a9a"/>
<line x1="232" y1="612.7" x2="247.7" y2="612.7" stroke="#404040" stroke-width="1.8"/>
<path d="M240.30,610.17L242.83,614.57L237.77,614.57Z" fill="#404040"/>
<text x="253.72" y="587.2" font-size="9.9" font-weight="bold" fill="#141414" textLength="41.97" lengthAdjust="spacingAndGlyphs" stroke="#141414" stroke-width="0.3">Scr (n=7)</text>
<text x="253.69" y="601.8" font-size="9.9" font-weight="bold" fill="#141414" textLength="41.99" lengthAdjust="spacingAndGlyphs" stroke="#141414" stroke-width="0.3">867 (n=7)</text>
<text x="253.69" y="616.1" font-size="9.9" font-weight="bold" fill="#141414" textLength="41.99" lengthAdjust="spacingAndGlyphs" stroke="#141414" stroke-width="0.3">868 (n=7)</text>
</svg>
</body></html>
